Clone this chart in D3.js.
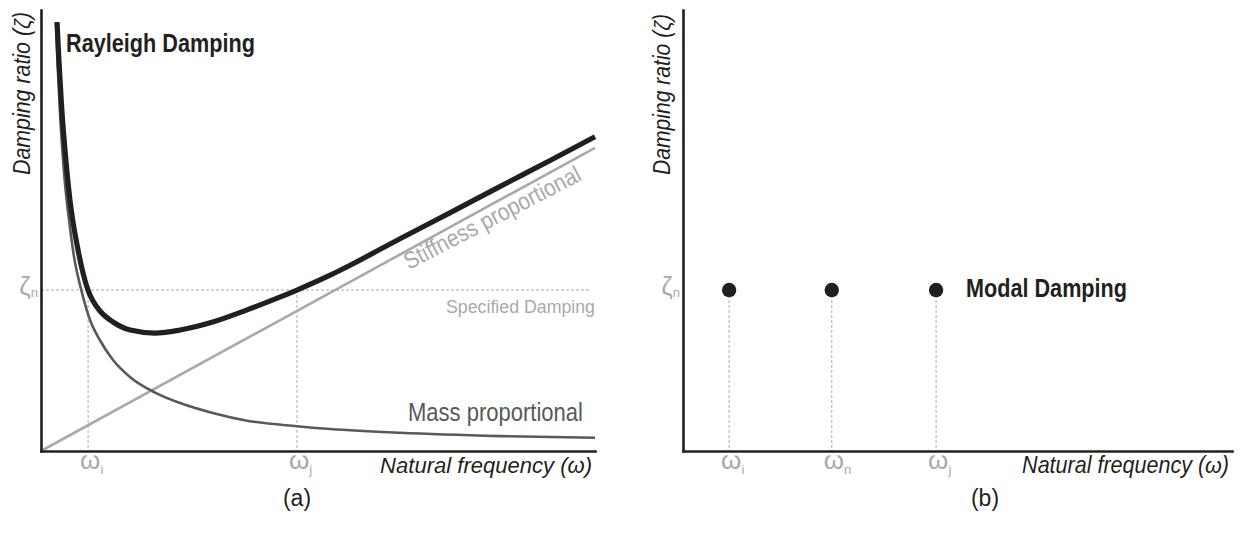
<!DOCTYPE html>
<html>
<head>
<meta charset="utf-8">
<script src="https://cdn.jsdelivr.net/npm/d3@7/dist/d3.min.js"></script>
<style>
  html, body { margin: 0; padding: 0; background: #fff; }
  svg { display: block; }
  text { font-family: "Liberation Sans Narrow", "Arial Narrow", "Liberation Sans", Arial, sans-serif; }
</style>
</head>
<body>
<svg id="chart" width="1241" height="535"></svg>
<script>
// ---------------- DATA ----------------
// Panel (a): natural frequency ω (arbitrary units 0..10) vs damping ratio ζ (0..8)
const rayleighOmega = [0.289, 0.325, 0.370, 0.433, 0.523, 0.668, 0.848, 0.939, 1.065, 1.30, 1.61, 2.06, 2.51, 3.10, 3.72, 4.31, 4.62, 5.22, 5.58, 6.48, 7.38, 8.29, 9.19, 10.0];
const rayleighZeta  = [7.78, 7.06, 6.28, 5.46, 4.55, 3.65, 2.92, 2.72, 2.54, 2.34, 2.195, 2.14, 2.195, 2.34, 2.56, 2.79, 2.92, 3.19, 3.37, 3.85, 4.32, 4.80, 5.27, 5.70];

const massOmega = [0.27, 0.30, 0.35, 0.42, 0.53, 0.60, 0.72, 0.88, 1.07, 1.30, 1.61, 2.06, 2.51, 3.10, 3.72, 4.62, 5.22, 6.48, 8.29, 10.0];
const massZeta  = [7.78, 7.00, 6.00, 5.00, 4.00, 3.50, 2.95, 2.39, 2.00, 1.65, 1.34, 1.06, 0.87, 0.69, 0.55, 0.45, 0.40, 0.33, 0.27, 0.24];

const stiffOmega = [0, 10];
const stiffZeta  = [0, 5.50];

const specifiedZeta = 2.92;            // ζn
const rayleighTicks = [0.85, 4.62];    // ωi, ωj
const rayleighTickSubs = ["i", "j"];

// Panel (b): modal damping points
const modalOmega = [0.84, 2.71, 4.61]; // ωi, ωn, ωj
const modalZeta  = [2.92, 2.92, 2.92];
const modalTickSubs = ["i", "n", "j"];

// Text
const yLabel = "Damping ratio (ζ)";
const xLabel = "Natural frequency (ω)";

// ---------------- DRAWING ----------------
const svg = d3.select("#chart");
const DARK = "#231f20", MID = "#58595b", LIGHT = "#a7a9ac";
const WIDE = "'Liberation Sans', Arial, sans-serif";

const y = d3.scaleLinear().domain([0, 8]).range([451, 10]);
const xa = d3.scaleLinear().domain([0, 10]).range([41, 595]);
const xb = d3.scaleLinear().domain([0, 10]).range([683, 1232]);

function zip(a, b) { return a.map((v, i) => [v, b[i]]); }

function drawAxes(x) {
  const gx = svg.append("g").attr("transform", `translate(0,${y(0)})`)
    .call(d3.axisBottom(x).tickValues([]).tickSizeOuter(0));
  const gy = svg.append("g").attr("transform", `translate(${x(0)},0)`)
    .call(d3.axisLeft(y).tickValues([]).tickSizeOuter(0));
  [gx, gy].forEach(g => g.select(".domain")
    .attr("stroke", DARK).attr("stroke-width", 2.6).attr("stroke-linecap", "square"));
}

function yAxisLabel(xBase, len) {
  svg.append("text")
    .attr("transform", `translate(${xBase},175) rotate(-90)`)
    .attr("font-size", 23).attr("font-style", "italic").attr("fill", DARK)
    .attr("textLength", len).attr("lengthAdjust", "spacingAndGlyphs")
    .text(yLabel);
}

// x-axis label: squeezed horizontally with a scale transform so its box stays inside the page
function xAxisLabel(xEnd, len) {
  const t = svg.append("text")
    .attr("font-size", 23).attr("font-style", "italic").attr("fill", DARK)
    .attr("text-anchor", "end")
    .text(xLabel);
  const natural = t.node().getComputedTextLength();
  const sx = Math.min(1, len / natural);
  t.attr("transform", `translate(${xEnd},473) scale(${sx},1)`);
}

function omegaLabel(xPos, sub) {
  const t = svg.append("text").attr("x", xPos - 8).attr("y", 469).attr("fill", LIGHT);
  t.append("tspan").attr("font-size", 26).attr("font-family", WIDE).text("ω");
  t.append("tspan").attr("font-size", 13).attr("dy", 5).text(sub);
}

function zetaLabel(xEnd) {
  const t = svg.append("text").attr("x", xEnd).attr("y", 295).attr("fill", LIGHT).attr("text-anchor", "end");
  t.append("tspan").attr("font-size", 26).attr("font-family", WIDE).text("ζ");
  t.append("tspan").attr("font-size", 13).attr("dy", 2).text("n");
}

function dashed(x1, y1, x2, y2) {
  svg.append("line").attr("x1", x1).attr("y1", y1).attr("x2", x2).attr("y2", y2)
    .attr("stroke", LIGHT).attr("stroke-width", 1).attr("stroke-dasharray", "3,2");
}

// ===== Panel (a) =====
dashed(xa(0), y(specifiedZeta), xa(9.93), y(specifiedZeta));
rayleighTicks.forEach(w => dashed(xa(w), y(specifiedZeta), xa(w), y(0)));

const lineA = d3.line().x(d => xa(d[0])).y(d => y(d[1])).curve(d3.curveMonotoneX);

svg.append("path").datum(zip(stiffOmega, stiffZeta)).attr("d", d3.line().x(d => xa(d[0])).y(d => y(d[1])))
  .attr("fill", "none").attr("stroke", LIGHT).attr("stroke-width", 2.6);
svg.append("path").datum(zip(massOmega, massZeta)).attr("d", lineA)
  .attr("fill", "none").attr("stroke", MID).attr("stroke-width", 2.6);
svg.append("path").datum(zip(rayleighOmega, rayleighZeta)).attr("d", lineA)
  .attr("fill", "none").attr("stroke", DARK).attr("stroke-width", 5.2);

drawAxes(xa);
yAxisLabel(30, 163);
xAxisLabel(592, 212);
zetaLabel(38);
rayleighTicks.forEach((w, i) => omegaLabel(xa(w), rayleighTickSubs[i]));

svg.append("text").attr("x", 66).attr("y", 52)
  .attr("font-size", 25).attr("font-weight", "bold").attr("fill", DARK)
  .attr("textLength", 189).attr("lengthAdjust", "spacingAndGlyphs")
  .text("Rayleigh Damping");

svg.append("text").attr("transform", "translate(409,270) rotate(-27.5)")
  .attr("font-size", 24).attr("fill", LIGHT)
  .attr("textLength", 196).attr("lengthAdjust", "spacingAndGlyphs")
  .text("Stiffness proportional");

svg.append("text").attr("x", 446).attr("y", 313)
  .attr("font-size", 18).attr("fill", LIGHT)
  .attr("textLength", 149).attr("lengthAdjust", "spacingAndGlyphs")
  .text("Specified Damping");

svg.append("text").attr("x", 408).attr("y", 421)
  .attr("font-size", 25).attr("fill", MID)
  .attr("textLength", 175).attr("lengthAdjust", "spacingAndGlyphs")
  .text("Mass proportional");

svg.append("text").attr("x", 297).attr("y", 506).attr("text-anchor", "middle")
  .attr("font-size", 23).attr("fill", DARK).attr("font-family", WIDE)
  .text("(a)");

// ===== Panel (b) =====
modalOmega.forEach((w, i) => dashed(xb(w), y(modalZeta[i]), xb(w), y(0)));
svg.append("g").selectAll("circle").data(zip(modalOmega, modalZeta)).join("circle")
  .attr("cx", d => xb(d[0])).attr("cy", d => y(d[1])).attr("r", 7.2).attr("fill", DARK);

drawAxes(xb);
yAxisLabel(670, 161);
xAxisLabel(1229, 207);
zetaLabel(680);
modalOmega.forEach((w, i) => omegaLabel(xb(w), modalTickSubs[i]));

svg.append("text").attr("x", 966).attr("y", 297)
  .attr("font-size", 25).attr("font-weight", "bold").attr("fill", DARK)
  .attr("textLength", 161).attr("lengthAdjust", "spacingAndGlyphs")
  .text("Modal Damping");

svg.append("text").attr("x", 985).attr("y", 506).attr("text-anchor", "middle")
  .attr("font-size", 23).attr("fill", DARK).attr("font-family", WIDE)
  .text("(b)");
</script>
</body>
</html>
